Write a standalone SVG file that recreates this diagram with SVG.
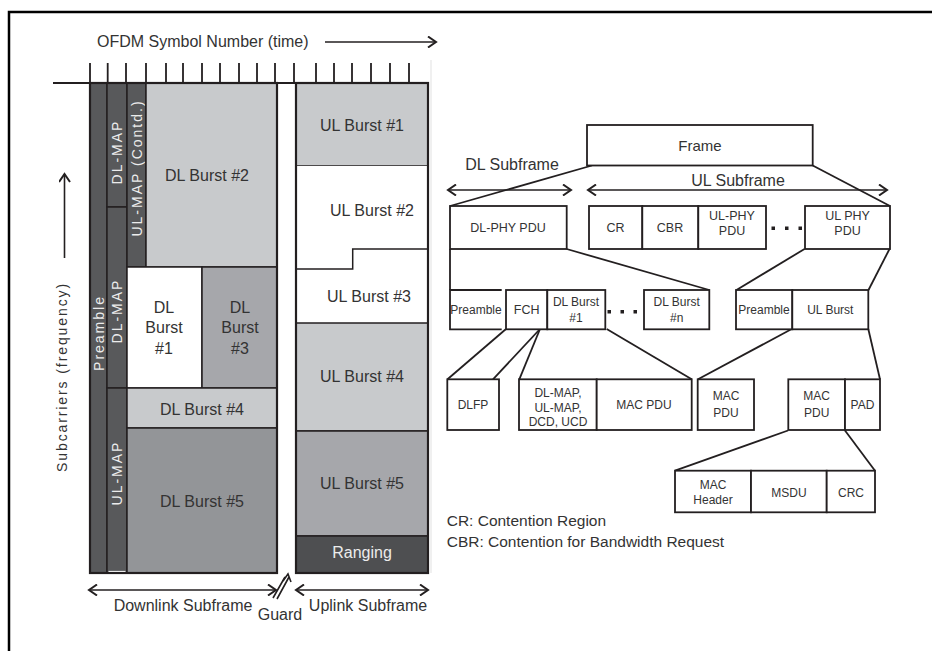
<svg xmlns="http://www.w3.org/2000/svg" width="932" height="651" viewBox="0 0 932 651">
<defs>
<marker id="chev" viewBox="-10 -6 12 12" markerWidth="12" markerHeight="12" refX="0" refY="0" orient="auto-start-reverse" markerUnits="userSpaceOnUse">
<path d="M-8,-5.5 L0,0 L-8,5.5" fill="none" stroke="#231f20" stroke-width="2"/>
</marker>
<style>
.t{font-family:"Liberation Sans",Arial,sans-serif;fill:#333;}
.w{fill:#ececec;}
.l16{font-size:16px;}
.r{font-size:14px;letter-spacing:2px;}
.s{font-size:12.5px;}
.cell{stroke:#231f20;stroke-width:1.5;}
.box{fill:#fff;stroke:#231f20;stroke-width:1.8;}
.ln{fill:none;stroke:#231f20;stroke-width:1.8;}
.arr{fill:none;stroke:#231f20;stroke-width:1.6;}
.dark{fill:#58595b;}
.lg{fill:#c8cacc;}
.mg{fill:#a6a7ab;}
.dg{fill:#939598;}
</style>
</defs>
<rect width="932" height="651" fill="#fff"/>
<!-- page border -->
<path d="M9,651 V12 H932" fill="none" stroke="#000" stroke-width="2.5"/>
<line x1="431" y1="60" x2="431" y2="573" stroke="#ebebeb" stroke-width="1.5"/>

<!-- time axis -->
<g id="time-axis">
<text class="t l16" x="97" y="47">OFDM Symbol Number (time)</text>
<line class="arr" x1="325" y1="42" x2="436" y2="42" marker-end="url(#chev)"/>
<path class="ln" d="M90,63V83M107.7,63V83M126,63V83M146,63V83M166,63V83M183,63V83M202,63V83M220,63V83M239,63V83M257,63V83M275,63V83M294,63V83M316,63V83M334,63V83M352,63V83M371,63V83M390,63V83M409,63V83"/>
<line class="ln" x1="53" y1="83" x2="428" y2="83"/>
</g>

<g id="freq-axis">
<line class="arr" x1="64.5" y1="258" x2="64.5" y2="174" marker-end="url(#chev)"/>
<text class="t" font-size="14" letter-spacing="1.9" text-anchor="middle" transform="translate(67,377) rotate(-90)">Subcarriers (frequency)</text>
</g>

<!-- downlink subframe -->
<g id="preamble-col"><rect class="dark cell" x="90" y="83" width="17" height="490"/>
<text class="t w r" text-anchor="middle" transform="translate(103.5,333) rotate(-90)">Preamble</text></g>
<g id="dl-map-1"><rect class="dark cell" x="107" y="83" width="20" height="124"/>
<text class="t w r" text-anchor="middle" transform="translate(122,152) rotate(-90)">DL-MAP</text></g>
<g id="dl-map-2"><rect class="dark cell" x="107" y="207" width="20" height="181"/>
<text class="t w r" text-anchor="middle" transform="translate(122,311) rotate(-90)">DL-MAP</text></g>
<g id="ul-map"><rect class="dark cell" x="107" y="388" width="20" height="185"/>
<line x1="108.5" y1="571.5" x2="125.5" y2="571.5" stroke="#fff" stroke-width="1.2"/>
<text class="t w r" text-anchor="middle" transform="translate(122,473) rotate(-90)">UL-MAP</text></g>
<g id="ul-map-contd"><rect class="dark cell" x="127" y="83" width="19" height="184"/>
<text class="t w r" text-anchor="middle" transform="translate(141.5,168) rotate(-90)">UL-MAP (Contd.)</text></g>
<g id="dl-burst-2"><rect class="lg cell" x="146" y="83" width="131" height="184"/>
<text class="t l16" x="207" y="181" text-anchor="middle">DL Burst #2</text></g>
<g id="dl-burst-1"><rect class="cell" fill="#fff" x="127" y="267" width="75" height="121"/>
<text class="t l16" text-anchor="middle" x="164"><tspan x="164" y="313">DL</tspan><tspan x="164" y="333">Burst</tspan><tspan x="164" y="354">#1</tspan></text></g>
<g id="dl-burst-3"><rect class="mg cell" x="202" y="267" width="75" height="121"/>
<text class="t l16" text-anchor="middle" x="240"><tspan x="240" y="313">DL</tspan><tspan x="240" y="333">Burst</tspan><tspan x="240" y="354">#3</tspan></text></g>
<g id="dl-burst-4"><rect class="lg cell" x="127" y="388" width="150" height="40"/>
<text class="t l16" x="202" y="415" text-anchor="middle">DL Burst #4</text></g>
<g id="dl-burst-5"><rect class="dg cell" x="127" y="428" width="150" height="145"/>
<text class="t l16" x="202" y="507" text-anchor="middle">DL Burst #5</text></g>
<rect x="90" y="83" width="187" height="490" fill="none" stroke="#231f20" stroke-width="2.2"/>

<!-- uplink subframe -->
<g id="ul-burst-1"><rect class="lg cell" x="296" y="83" width="132" height="83"/>
<text class="t l16" x="362" y="131" text-anchor="middle">UL Burst #1</text></g>
<g id="ul-burst-2"><rect fill="#fff" x="296" y="166" width="132" height="157"/>
<path class="cell" fill="none" d="M296,269H352.7V249H428"/>
<text class="t l16" x="372" y="216" text-anchor="middle">UL Burst #2</text></g>
<g id="ul-burst-3"><text class="t l16" x="369" y="302" text-anchor="middle">UL Burst #3</text></g>
<g id="ul-burst-4"><rect class="lg cell" x="296" y="323" width="132" height="108"/>
<text class="t l16" x="362" y="382" text-anchor="middle">UL Burst #4</text></g>
<g id="ul-burst-5"><rect class="mg cell" x="296" y="431" width="132" height="105"/>
<text class="t l16" x="362" y="489" text-anchor="middle">UL Burst #5</text></g>
<g id="ranging"><rect class="cell" fill="#4e4f51" x="296" y="536" width="132" height="37"/>
<text class="t l16 w" x="362" y="558" text-anchor="middle">Ranging</text></g>
<rect x="296" y="83" width="132" height="490" fill="none" stroke="#231f20" stroke-width="2.2"/>

<!-- subframe spans -->
<g id="spans">
<line class="arr" x1="89" y1="590" x2="276" y2="590" marker-start="url(#chev)" marker-end="url(#chev)"/>
<line class="arr" x1="296" y1="590" x2="428" y2="590" marker-start="url(#chev)" marker-end="url(#chev)"/>
<path class="arr" d="M273,598L285,577M277,599L289,577"/>
<path class="arr" d="M283,581L288,574L291,582"/>
<text class="t l16" x="183" y="611" text-anchor="middle">Downlink Subframe</text>
<text class="t l16" x="280" y="620" text-anchor="middle">Guard</text>
<text class="t l16" x="368" y="611" text-anchor="middle">Uplink Subframe</text>
</g>

<!-- right hierarchy -->
<g id="connectors">
<line class="ln" x1="592" y1="165.5" x2="450" y2="206"/>
<line class="ln" x1="812.7" y1="165.5" x2="890" y2="206"/>
<line class="arr" x1="448" y1="190" x2="571" y2="190" marker-start="url(#chev)" marker-end="url(#chev)"/>
<line class="arr" x1="588" y1="190" x2="887" y2="190" marker-start="url(#chev)" marker-end="url(#chev)"/>
<line class="ln" x1="450" y1="249" x2="450" y2="290"/>
<line class="ln" x1="566.7" y1="249" x2="709.3" y2="290"/>
<line class="ln" x1="804.5" y1="249" x2="736.5" y2="290"/>
<line class="ln" x1="889.5" y1="249" x2="868.5" y2="290"/>
<line class="ln" x1="506" y1="329" x2="447.5" y2="379.3"/>
<line class="ln" x1="540" y1="329" x2="493" y2="379.3"/>
<line class="ln" x1="540" y1="329" x2="519.3" y2="379.3"/>
<line class="ln" x1="606.7" y1="329" x2="691.7" y2="379.3"/>
<line class="ln" x1="791.7" y1="329" x2="698" y2="379.3"/>
<line class="ln" x1="868.3" y1="329" x2="880" y2="379.3"/>
<line class="ln" x1="788" y1="430.5" x2="675" y2="470.7"/>
<line class="ln" x1="845" y1="430.5" x2="875" y2="470.7"/>
</g>

<g id="frame"><rect class="box" x="587" y="125" width="225.7" height="40.5"/>
<text class="t" font-size="15" x="700" y="151" text-anchor="middle">Frame</text></g>
<text class="t l16" x="512" y="170" text-anchor="middle">DL Subframe</text>
<text class="t l16" x="738" y="186" text-anchor="middle">UL Subframe</text>

<g id="dl-phy-pdu"><rect class="box" x="450" y="206" width="116.7" height="43"/>
<text class="t s" x="508" y="232" text-anchor="middle">DL-PHY PDU</text></g>
<g id="cr"><rect class="box" x="589" y="206" width="53.3" height="43"/>
<text class="t s" x="615.5" y="232" text-anchor="middle">CR</text></g>
<g id="cbr"><rect class="box" x="642.3" y="206" width="56" height="43"/>
<text class="t s" x="670" y="232" text-anchor="middle">CBR</text></g>
<g id="ul-phy-pdu-1"><rect class="box" x="698.3" y="206" width="67.7" height="43"/>
<text class="t s" text-anchor="middle"><tspan x="732" y="220">UL-PHY</tspan><tspan x="732" y="235">PDU</tspan></text></g>
<g id="dots-ul" fill="#231f20"><rect x="771.5" y="226.5" width="3.5" height="3.5"/><rect x="785" y="226.5" width="3.5" height="3.5"/><rect x="798.5" y="226.5" width="3.5" height="3.5"/></g>
<g id="ul-phy-pdu-n"><rect class="box" x="805" y="206" width="85" height="43"/>
<text class="t s" text-anchor="middle"><tspan x="847.5" y="220">UL PHY</tspan><tspan x="847.5" y="235">PDU</tspan></text></g>

<g id="dl-preamble"><path class="ln" d="M501.7,290H450V329.3H501.7"/>
<text class="t" font-size="12" x="476" y="314" text-anchor="middle">Preamble</text></g>
<g id="fch"><rect class="box" x="506" y="290" width="41.3" height="39.3"/>
<text class="t s" x="526.7" y="314" text-anchor="middle">FCH</text></g>
<g id="dl-burst-1-pdu"><rect class="box" x="547.3" y="290" width="58" height="39.3"/>
<text class="t" font-size="12" text-anchor="middle"><tspan x="576" y="306">DL Burst</tspan><tspan x="576" y="322">#1</tspan></text></g>
<g id="dots-dl" fill="#231f20"><rect x="607.5" y="310" width="3.5" height="3.5"/><rect x="620.5" y="310" width="3.5" height="3.5"/><rect x="633.5" y="310" width="3.5" height="3.5"/></g>
<g id="dl-burst-n"><rect class="box" x="644" y="290" width="65.3" height="39.3"/>
<text class="t" font-size="12" text-anchor="middle"><tspan x="676.7" y="306">DL Burst</tspan><tspan x="676.7" y="322">#n</tspan></text></g>
<g id="ul-preamble"><rect class="box" x="736" y="290" width="56.3" height="39.3"/>
<text class="t" font-size="12" x="764" y="314" text-anchor="middle">Preamble</text></g>
<g id="ul-burst"><rect class="box" x="792.3" y="290" width="76" height="39.3"/>
<text class="t" font-size="12" x="830.3" y="314" text-anchor="middle">UL Burst</text></g>

<g id="dlfp"><rect class="box" x="447.3" y="379.3" width="51.7" height="50.7"/>
<text class="t" font-size="12" x="473" y="409" text-anchor="middle">DLFP</text></g>
<g id="dl-maps"><rect class="box" x="519" y="379.3" width="77.7" height="50.7"/>
<text class="t" font-size="12" text-anchor="middle"><tspan x="558" y="397">DL-MAP,</tspan><tspan x="558" y="411.5">UL-MAP,</tspan><tspan x="558" y="426">DCD, UCD</tspan></text></g>
<g id="mac-pdu-dl"><rect class="box" x="596.7" y="379.3" width="95" height="50.7"/>
<text class="t" font-size="12" x="644" y="409" text-anchor="middle">MAC PDU</text></g>
<g id="mac-pdu-ul1"><rect class="box" x="697.7" y="379.3" width="56.3" height="50.7"/>
<text class="t" font-size="12" text-anchor="middle"><tspan x="726" y="400">MAC</tspan><tspan x="726" y="417">PDU</tspan></text></g>
<g id="mac-pdu-ul2"><rect class="box" x="788.3" y="379.3" width="56.7" height="50.7"/>
<text class="t" font-size="12" text-anchor="middle"><tspan x="816.7" y="400">MAC</tspan><tspan x="816.7" y="417">PDU</tspan></text></g>
<g id="pad"><rect class="box" x="845" y="379.3" width="35" height="50.7"/>
<text class="t" font-size="12" x="862.5" y="409" text-anchor="middle">PAD</text></g>

<g id="mac-header"><rect class="box" x="675" y="470.7" width="76" height="41.6"/>
<text class="t" font-size="12" text-anchor="middle"><tspan x="713" y="489">MAC</tspan><tspan x="713" y="504">Header</tspan></text></g>
<g id="msdu"><rect class="box" x="751" y="470.7" width="75.7" height="41.6"/>
<text class="t" font-size="12" x="789" y="497" text-anchor="middle">MSDU</text></g>
<g id="crc"><rect class="box" x="826.7" y="470.7" width="48.3" height="41.6"/>
<text class="t" font-size="12" x="851" y="497" text-anchor="middle">CRC</text></g>

<g id="legend">
<text class="t" font-size="15.5" x="446.7" y="526">CR: Contention Region</text>
<text class="t" font-size="15.5" x="446.7" y="547">CBR: Contention for Bandwidth Request</text>
</g>
</svg>
